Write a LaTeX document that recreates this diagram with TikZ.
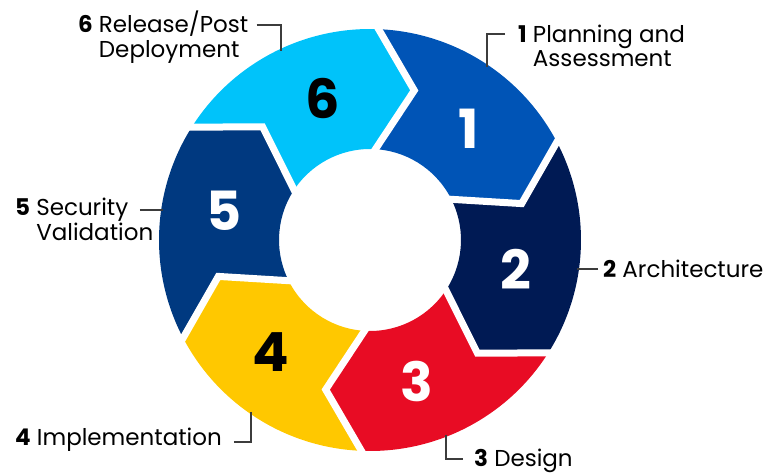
\documentclass[tikz,border=0pt]{standalone}
\usepackage{fontspec}
\setmainfont{Poppins}

\definecolor{planblue}{RGB}{0,84,182}
\definecolor{archnavy}{RGB}{0,26,84}
\definecolor{designred}{RGB}{232,12,36}
\definecolor{implyellow}{RGB}{255,200,0}
\definecolor{secblue}{RGB}{0,57,128}
\definecolor{relcyan}{RGB}{0,195,250}
\definecolor{linkgray}{RGB}{60,60,60}

\begin{document}
\begin{tikzpicture}[
                x=1pt, y=1pt,
                num/.style={font=\fontsize{54}{54}\selectfont\bfseries, inner sep=0},
                steplabel/.style={anchor=base west, inner sep=0, font=\fontsize{23}{24}\selectfont},
                gap/.style={white, line width=7pt, line join=miter},
                link/.style={linkgray, line width=1.3pt}
            ]

                \useasboundingbox (-370,-234) rectangle (401,240);

                % ring segments, each one points clockwise into the next
                \fill[planblue]
                    (88.5:211pt) arc[start angle=88.5, end angle=28.5, radius=211pt]
                    -- (13.5:156pt) -- (28.5:91pt)
                    arc[start angle=28.5, end angle=88.5, radius=91pt]
                    -- (73.5:156pt) -- cycle;
                \fill[archnavy]
                    (28.5:211pt) arc[start angle=28.5, end angle=-31.5, radius=211pt]
                    -- (-46.5:156pt) -- (-31.5:91pt)
                    arc[start angle=-31.5, end angle=28.5, radius=91pt]
                    -- (13.5:156pt) -- cycle;
                \fill[designred]
                    (-31.5:211pt) arc[start angle=-31.5, end angle=-91.5, radius=211pt]
                    -- (-106.5:156pt) -- (-91.5:91pt)
                    arc[start angle=-91.5, end angle=-31.5, radius=91pt]
                    -- (-46.5:156pt) -- cycle;
                \fill[implyellow]
                    (-91.5:211pt) arc[start angle=-91.5, end angle=-151.5, radius=211pt]
                    -- (-166.5:156pt) -- (-151.5:91pt)
                    arc[start angle=-151.5, end angle=-91.5, radius=91pt]
                    -- (-106.5:156pt) -- cycle;
                \fill[secblue]
                    (208.5:211pt) arc[start angle=208.5, end angle=148.5, radius=211pt]
                    -- (133.5:156pt) -- (148.5:91pt)
                    arc[start angle=148.5, end angle=208.5, radius=91pt]
                    -- (193.5:156pt) -- cycle;
                \fill[relcyan]
                    (148.5:211pt) arc[start angle=148.5, end angle=88.5, radius=211pt]
                    -- (73.5:156pt) -- (88.5:91pt)
                    arc[start angle=88.5, end angle=148.5, radius=91pt]
                    -- (133.5:156pt) -- cycle;

                % white gaps
                \draw[gap] (88.5:216pt) -- (73.5:156pt) -- (88.5:86pt);
                \draw[gap] (28.5:216pt) -- (13.5:156pt) -- (28.5:86pt);
                \draw[gap] (-31.5:216pt) -- (-46.5:156pt) -- (-31.5:86pt);
                \draw[gap] (-91.5:216pt) -- (-106.5:156pt) -- (-91.5:86pt);
                \draw[gap] (-151.5:216pt) -- (-166.5:156pt) -- (-151.5:86pt);
                \draw[gap] (148.5:216pt) -- (133.5:156pt) -- (148.5:86pt);

                \node[num, white] (n1) at (48.5:149pt) {1};
                \node[num, white] (n2) at (-11.5:149pt) {2};
                \node[num, white] (n3) at (-71.5:149pt) {3};
                \node[num] (n4) at (-131.5:149pt) {4};
                \node[num, white] (n5) at (168.5:149pt) {5};
                \node[num] (n6) at (108.5:149pt) {6};

                % labels
                \node[steplabel] (planning) at (148,197)
                    {\textbf{1} \begin{tabular}[t]{@{}l@{}}Planning and\\Assessment\end{tabular}};
                \node[steplabel] (architecture) at (233,-37) {\textbf{2} Architecture};
                \node[steplabel] (design) at (104,-226) {\textbf{3} Design};
                \node[steplabel] (implementation) at (-355,-205) {\textbf{4} Implementation};
                \node[steplabel] (security) at (-355,24)
                    {\textbf{5} \begin{tabular}[t]{@{}l@{}}Security\\Validation\end{tabular}};
                \node[steplabel] (release) at (-292,207)
                    {\textbf{6} \begin{tabular}[t]{@{}l@{}}Release/Post\\Deployment\end{tabular}};

                \coordinate (planning-end) at (56:209pt);
                \coordinate (architecture-end) at (207,-29);
                \coordinate (design-end) at (-68.7:209pt);
                \coordinate (implementation-end) at (-124.7:209pt);
                \coordinate (security-end) at (-207,30);
                \coordinate (release-end) at (115.2:209pt);

                \draw[link] ([shift={(-13pt,9pt)}]planning.base west) -| (planning-end);
                \draw[link] ([shift={(-5pt,8pt)}]architecture.base west) -- (architecture-end);
                \draw[link] (design-end) |- ([shift={(-11pt,7pt)}]design.base west);
                \draw[link] ([shift={(12pt,3pt)}]implementation.base east) -| (implementation-end);
                \draw[link] ([shift={(125pt,6pt)}]security.base west) -- (security-end);
                \draw[link] ([shift={(8pt,8pt)}]release.base east) -| (release-end);

            \end{tikzpicture}
\end{document}
